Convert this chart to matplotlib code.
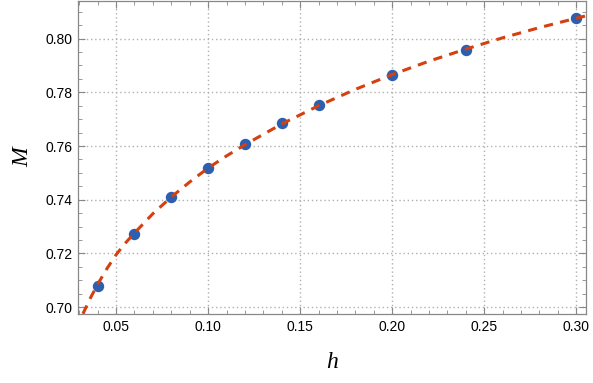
import matplotlib
matplotlib.use("Agg")
import matplotlib.pyplot as plt
from matplotlib.ticker import MultipleLocator

# data points
h_pts = [0.04, 0.06, 0.08, 0.10, 0.12, 0.14, 0.16, 0.20, 0.24, 0.30]
M_pts = [0.7078, 0.7271, 0.7409, 0.7517, 0.7606, 0.7684, 0.7751, 0.7866, 0.7959, 0.8078]

# fitted curve
h_fit = [0.032, 0.036, 0.04, 0.045, 0.05, 0.055, 0.06, 0.07, 0.08, 0.09, 0.10, 0.11, 0.12,
         0.14, 0.16, 0.18, 0.20, 0.22, 0.24, 0.26, 0.28, 0.30, 0.306]
M_fit = [0.6975, 0.7033, 0.7085, 0.7143, 0.7195, 0.7238, 0.7276, 0.7348, 0.7410, 0.7466, 0.7518,
         0.7563, 0.7605, 0.7682, 0.7750, 0.7811, 0.7866, 0.7916, 0.7961, 0.8003, 0.8041, 0.8076, 0.8086]

plt.rcParams['font.family'] = ['Liberation Sans', 'DejaVu Sans']

fig = plt.figure(figsize=(5.93, 3.83), dpi=100)
ax = fig.add_axes([0.1315, 0.18, 0.857, 0.818])

ax.plot(h_pts, M_pts, 'o', color='#2d5fb0', markersize=7.2, zorder=3)
ax.plot(h_fit, M_fit, color='#d4400f', lw=2.2, dashes=(3.0, 2.4), zorder=4)

ax.set_xlim(0.0293, 0.3054)
ax.set_ylim(0.6974, 0.8141)

ax.xaxis.set_major_locator(MultipleLocator(0.05))
ax.xaxis.set_minor_locator(MultipleLocator(0.01))
ax.yaxis.set_major_locator(MultipleLocator(0.02))
ax.yaxis.set_minor_locator(MultipleLocator(0.005))
ax.xaxis.set_major_formatter(plt.FuncFormatter(lambda v, p: f"{v:.2f}"))
ax.yaxis.set_major_formatter(plt.FuncFormatter(lambda v, p: f"{v:.2f}"))

ax.tick_params(which='both', direction='in', top=True, right=True, color='#888888',
               labelsize=10, labelcolor='black')
ax.tick_params(which='major', length=5, width=0.8, pad=4)
ax.tick_params(which='minor', length=3, width=0.6)
for s in ax.spines.values():
    s.set_color('#888888')
    s.set_linewidth(0.9)

ax.grid(True, which='major', color='#b0b0b0', linestyle=(0, (1, 2)), linewidth=1.0)
ax.set_axisbelow(True)

ax.set_xlabel('h', family='Liberation Serif', style='italic', fontsize=17, labelpad=13)
ax.set_ylabel('M', family='Liberation Serif', style='italic', fontsize=17, labelpad=9)

fig.savefig('out.png', dpi=100)
